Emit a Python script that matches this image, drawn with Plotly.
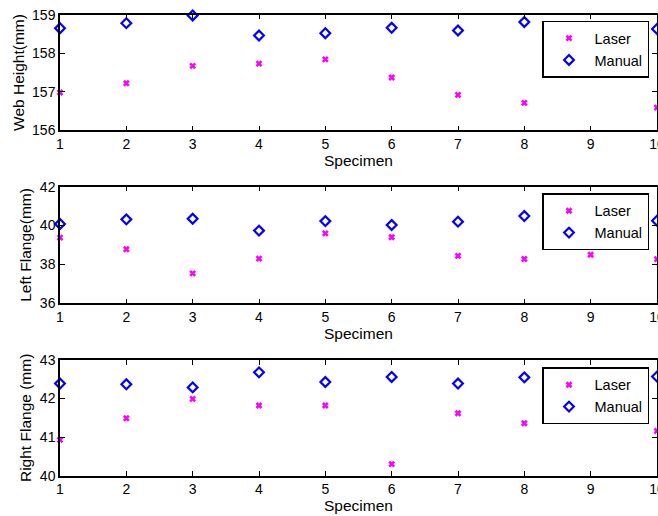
import plotly.graph_objects as go

specimen = [1, 2, 3, 4, 5, 6, 7, 8, 9, 10]

web_laser = [156.98, 157.22, 157.67, 157.73, 157.84, 157.37, 156.92, 156.71, None, 156.59]
web_manual = [158.65, 158.78, 158.98, 158.46, 158.52, 158.66, 158.59, 158.81, None, 158.63]

left_laser = [39.38, 38.78, 37.54, 38.30, 39.60, 39.40, 38.44, 38.28, 38.50, 38.27]
left_manual = [40.08, 40.32, 40.35, 39.74, 40.23, 40.03, 40.20, 40.49, None, 40.25]

right_laser = [40.93, 41.49, 41.99, 41.82, 41.82, 40.30, 41.62, 41.36, None, 41.16]
right_manual = [42.39, 42.37, 42.29, 42.68, 42.43, 42.56, 42.39, 42.55, None, 42.57]

y_titles = ["Web Height(mm)", "Left Flange(mm)", "Right Flange (mm)"]
y_ranges = [[156, 159], [36, 42], [40, 43]]
y_ticks = [[156, 157, 158, 159], [36, 38, 40, 42], [40, 41, 42, 43]]
x_title = "Specimen"

W, H = 658, 516
ML, MR, MT, MB = 60, 1, 14, 40
PW, PH = W - ML - MR, H - MT - MB

def fx(px):
    return (px - ML) / PW

def fy(py):
    return min(1.0, max(0.0, 1 - (py - MT) / PH))

panels_px = [(14.7, 130.3), (186.7, 303.3), (360.0, 475.7)]
legend_tops = [20.7, 193.3, 367.3]

fig = go.Figure()
FONT = "Liberation Sans, Arial, sans-serif"
series = [(web_laser, web_manual), (left_laser, left_manual), (right_laser, right_manual)]

for i, (las, man) in enumerate(series):
    sfx = "" if i == 0 else str(i + 1)
    leg = "legend" if i == 0 else f"legend{i+1}"
    fig.add_trace(go.Scatter(
        x=specimen, y=las, mode="markers", name="Laser",
        marker=dict(symbol="x-thin-open", size=5, color="#ff00ff",
                    line=dict(color="#ff00ff", width=2.6)),
        xaxis="x" + sfx, yaxis="y" + sfx, legend=leg, cliponaxis=False))
    fig.add_trace(go.Scatter(
        x=specimen, y=man, mode="markers", name="Manual",
        marker=dict(symbol="diamond-open", size=7.5, color="#0000ff",
                    line=dict(color="#0000ff", width=2.2)),
        xaxis="x" + sfx, yaxis="y" + sfx, legend=leg, cliponaxis=False))

layout = dict(
    width=W, height=H, margin=dict(l=ML, r=MR, t=MT, b=MB, autoexpand=False),
    paper_bgcolor="white", plot_bgcolor="white",
    font=dict(family=FONT, size=14, color="black"),
    showlegend=True,
)
for i in range(3):
    sfx = "" if i == 0 else str(i + 1)
    top, bot = panels_px[i]
    axis_common = dict(showline=True, linecolor="black", linewidth=1.5, mirror="ticks",
                       ticks="inside", ticklen=5, tickwidth=1, tickcolor="black",
                       showgrid=False, zeroline=False, automargin=False,
                       ticklabeloverflow="allow",
                       tickfont=dict(family=FONT, size=14, color="black"))
    layout["xaxis" + sfx] = dict(axis_common, domain=[0, 1], range=[1, 10],
                                 tickvals=specimen, anchor="y" + sfx,
                                 title=dict(text=x_title, standoff=2,
                                            font=dict(family=FONT, size=15.5)))
    layout["yaxis" + sfx] = dict(axis_common, domain=[fy(bot), fy(top)],
                                 range=y_ranges[i], tickvals=y_ticks[i], anchor="x" + sfx,
                                 title=dict(text=y_titles[i], standoff=4,
                                            font=dict(family=FONT, size=15.5)))
    leg = "legend" if i == 0 else f"legend{i+1}"
    layout[leg] = dict(x=fx(649), y=fy(legend_tops[i]), xanchor="right", yanchor="top",
                       bgcolor="white", bordercolor="black", borderwidth=1.5,
                       font=dict(family=FONT, size=14.5, color="black"),
                       tracegroupgap=0, itemwidth=41, entrywidth=58,
                       valign="middle")

fig.update_layout(**layout)
fig.write_html("out.html", config={"displayModeBar": False},
               post_script="document.body.style.margin='0px';document.body.style.padding='0px';")
